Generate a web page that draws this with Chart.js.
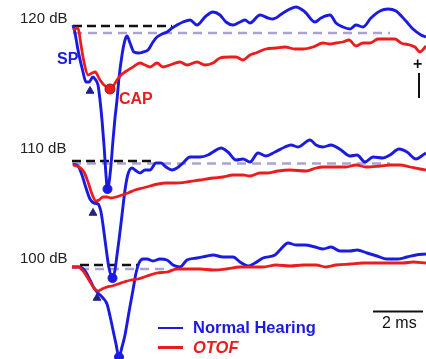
<!DOCTYPE html>
<html>
<head>
<meta charset="utf-8">
<script src="https://cdn.jsdelivr.net/npm/chart.js@4.4.1/dist/chart.umd.min.js"></script>
<style>
  body { margin: 0; background: #fff; }
  #wrap { position: relative; width: 426px; height: 359px; overflow: hidden; font-family: "Liberation Sans", Arial, sans-serif; }
  #wrap canvas { position: absolute; left: 0; top: 0; }
  .lbl { position: absolute; white-space: nowrap; line-height: 1; }
  .level { font-size: 15px; color: #222; }
  .blue { color: #1a1ae0; font-weight: bold; }
  .red { color: #ec1c1c; font-weight: bold; }
  .swatch { position: absolute; left: 158px; width: 25px; }
</style>
</head>
<body>
<div id="wrap">
  <canvas id="ecochg" width="426" height="359"></canvas>
  <div class="lbl level" style="left:20px; top:10px;">120 dB</div>
  <div class="lbl level" style="left:20px; top:140px;">110 dB</div>
  <div class="lbl level" style="left:20px; top:250px;">100 dB</div>
  <div class="lbl blue" style="left:57px; top:51px; font-size:16px;">SP</div>
  <div class="lbl red" style="left:119px; top:91px; font-size:16px;">CAP</div>
  <div class="lbl" style="left:413px; top:56px; font-size:16px; font-weight:bold; color:#111;">+</div>
  <div class="lbl" style="left:382px; top:315px; font-size:16px; color:#111;">2 ms</div>
  <div class="swatch" style="top:327px; height:2px; background:#1a1ae0;"></div>
  <div class="lbl blue" style="left:193px; top:319px; font-size:16.5px;">Normal Hearing</div>
  <div class="swatch" style="top:346px; height:3px; background:#ec1c1c;"></div>
  <div class="lbl red" style="left:193px; top:339px; font-size:16.5px; font-style:italic;">OTOF</div>
</div>
<script>
// stimulus levels and vertical offset of each pair of traces (uV)
const levels = ['120 dB', '110 dB', '100 dB'];
const offsets = [0, -13.5, -23.9];

// time (ms) and amplitude (uV) per trace
const nh120Time = [0.04, 0.12, 0.24, 0.44, 0.56, 0.68, 0.84, 0.92, 1.04, 1.12, 1.2, 1.28, 1.36, 1.42, 1.48, 1.56, 1.64, 1.72, 1.8, 1.88, 2.0, 2.12, 2.2, 2.32, 2.48, 2.68, 2.84, 3.04, 3.24, 3.4, 3.6, 3.8, 4.0, 4.2, 4.44, 4.72, 5.0, 5.32, 5.64, 5.92, 6.16, 6.44, 6.72, 6.92, 7.12, 7.52, 7.84, 8.04, 8.44, 8.72, 8.96, 9.32, 9.72, 9.96, 10.32, 10.56, 10.84, 11.12, 11.36, 11.64, 11.96, 12.32, 12.64, 12.96, 13.32, 13.64, 13.96, 14.16];
const nh120Amp = [0.1, -0.7, -2.4, -4.6, -5.6, -5.6, -5.1, -5.3, -5.9, -7.4, -9.4, -11.9, -14.9, -16.3, -15.7, -13.9, -11.4, -9.2, -7.4, -5.2, -2.9, -1.4, -1.0, -1.7, -2.6, -2.7, -2.6, -2.4, -1.6, -1.1, -0.8, -0.6, -0.2, 0.1, 0.4, 0.6, 0.1, 0.9, 1.4, 1.1, 0.4, 0.1, 0.4, 0.6, 0.3, 1.1, 0.8, 0.7, 1.3, 1.7, 1.9, 1.4, 0.4, 0.8, 1.1, 0.3, -0.1, -0.3, 0.1, -0.1, 0.8, 1.5, 1.7, 1.5, 0.6, -0.3, -0.9, -1.1];
const ot120Time = [0.04, 0.24, 0.36, 0.48, 0.64, 0.8, 0.92, 1.12, 1.28, 1.44, 1.6, 1.8, 1.96, 2.12, 2.44, 2.72, 2.92, 3.12, 3.4, 3.64, 3.92, 4.32, 4.6, 5.0, 5.32, 5.64, 5.92, 6.32, 6.56, 6.84, 7.12, 7.36, 7.76, 8.16, 8.52, 8.92, 9.24, 9.64, 10.04, 10.32, 10.56, 10.84, 11.08, 11.36, 11.64, 11.92, 12.24, 12.56, 12.92, 13.16, 13.52, 13.72, 13.92, 14.16];
const ot120Amp = [-0.4, -0.2, -1.9, -3.6, -4.9, -4.7, -4.6, -5.4, -5.9, -6.1, -6.1, -5.4, -4.9, -4.6, -4.1, -3.7, -3.9, -4.1, -3.7, -4.1, -3.9, -3.6, -3.9, -3.6, -3.9, -3.7, -3.2, -3.1, -3.1, -3.4, -2.9, -2.7, -2.3, -2.2, -2.1, -2.3, -2.3, -2.1, -1.7, -1.8, -1.7, -1.6, -1.4, -2.0, -1.7, -1.7, -1.3, -1.3, -1.3, -1.7, -1.9, -2.1, -2.6, -2.0];

const nh110Time = [0.04, 0.24, 0.4, 0.56, 0.72, 0.88, 1.04, 1.16, 1.24, 1.32, 1.4, 1.48, 1.62, 1.72, 1.8, 1.88, 2.0, 2.12, 2.24, 2.4, 2.52, 2.72, 2.92, 3.12, 3.36, 3.56, 3.76, 4.0, 4.2, 4.44, 4.72, 5.12, 5.44, 5.64, 5.96, 6.24, 6.56, 6.84, 7.12, 7.44, 7.76, 8.12, 8.52, 8.76, 9.04, 9.52, 9.76, 10.04, 10.36, 10.76, 11.12, 11.4, 11.72, 12.04, 12.44, 12.72, 13.08, 13.4, 13.76, 14.04, 14.16];
const nh110Amp = [-0.3, -0.5, -1.4, -2.7, -3.8, -4.2, -4.3, -5.1, -6.4, -7.9, -9.4, -10.7, -11.7, -10.9, -9.4, -7.9, -5.4, -2.9, -1.3, -0.7, -0.9, -1.2, -0.9, -0.9, -0.2, -0.2, -0.6, -0.9, -0.7, -0.2, 0.4, 0.4, 0.6, 0.9, 1.3, 0.9, 0.1, 0.2, -0.1, 0.8, 0.5, 0.9, 1.4, 1.6, 1.4, 2.1, 1.6, 1.4, 1.6, 1.1, 0.5, 0.6, -0.1, 0.4, 0.3, 0.6, 1.2, 0.9, 0.2, 0.6, 0.8];
const ot110Time = [0.04, 0.28, 0.48, 0.64, 0.8, 0.96, 1.08, 1.24, 1.4, 1.56, 1.76, 2.0, 2.24, 2.52, 2.84, 3.12, 3.44, 3.76, 4.12, 4.6, 5.12, 5.64, 6.04, 6.44, 6.84, 7.12, 7.52, 7.84, 8.24, 8.72, 9.36, 9.76, 10.04, 10.56, 10.96, 11.36, 11.76, 12.32, 12.72, 13.12, 13.52, 13.92, 14.16];
const ot110Amp = [-0.4, -0.6, -1.1, -2.1, -3.3, -4.0, -3.9, -3.6, -3.6, -3.7, -3.6, -3.4, -3.2, -2.9, -2.7, -2.5, -2.3, -2.2, -2.2, -2.1, -1.9, -1.7, -1.6, -1.4, -1.4, -1.5, -1.2, -1.2, -1.0, -0.9, -1.0, -0.7, -0.6, -0.6, -0.6, -0.4, -0.6, -0.5, -0.4, -0.4, -0.6, -0.8, -0.9];

const nh100Time = [0, 0.32, 0.52, 0.72, 0.88, 1.04, 1.24, 1.4, 1.52, 1.64, 1.76, 1.88, 2.0, 2.12, 2.28, 2.44, 2.56, 2.68, 2.84, 3.0, 3.24, 3.52, 3.8, 4.04, 4.32, 4.6, 5.0, 5.4, 5.64, 6.04, 6.44, 6.72, 7.04, 7.32, 7.64, 8.12, 8.32, 8.64, 8.96, 9.32, 9.72, 10.04, 10.36, 10.72, 11.12, 11.4, 11.8, 12.2, 12.6, 13.0, 13.4, 13.76, 14.16];
const nh100Amp = [-0.2, -0.2, -0.6, -1.5, -2.3, -2.8, -3.3, -3.9, -5.1, -6.5, -7.9, -9.2, -8.2, -7.0, -4.7, -2.5, -0.8, 0.2, 0.6, 0.6, 0.4, 0.6, 0.5, 0.0, -0.2, 0.5, 0.7, 0.9, 1.0, 0.8, 0.8, 0.3, -0.1, 0.2, 0.7, 1.0, 1.5, 2.2, 2.0, 2.0, 1.8, 1.6, 1.8, 1.4, 1.4, 1.5, 1.2, 0.9, 0.6, 0.6, 0.8, 1.0, 1.1];
const ot100Time = [0, 0.24, 0.48, 0.68, 0.88, 1.04, 1.2, 1.4, 1.6, 1.84, 2.08, 2.36, 2.64, 3.0, 3.4, 3.8, 4.2, 4.6, 5.12, 5.64, 6.16, 6.72, 7.12, 7.64, 8.16, 8.72, 9.24, 9.76, 10.16, 10.56, 11.12, 11.64, 12.16, 12.72, 13.24, 13.64, 14.16];
const ot100Amp = [-0.2, -0.2, -0.7, -1.5, -2.3, -2.6, -2.4, -2.2, -2.1, -1.9, -1.7, -1.5, -1.4, -1.1, -0.8, -0.7, -0.4, -0.4, -0.4, -0.5, -0.4, -0.2, -0.2, -0.2, 0.0, -0.1, 0.0, 0.0, -0.2, 0.0, 0.1, 0.2, 0.2, 0.2, 0.2, 0.3, 0.2];

// SP (triangles) and CAP (circles) markers, one per level
const spTime = [0.72, 0.84, 1.0];
const spAmp = [-6.5, -5.2, -3.3];
const capNhTime = [1.42, 1.62, 1.88];
const capNhAmp = [-16.3, -11.7, -9.2];
const capOtTime = [1.52];
const capOtAmp = [-6.3];

// dashed reference lines: [start ms, end ms, amplitude]
const blackRefs = [[0.04, 4.0, 0], [0, 3.24, 0], [0.32, 2.64, 0]];
const greyRefs = [[0.04, 12.72, -0.7], [0, 12.72, -0.25], [0.32, 3.8, -0.4]];

// scale bars
const timeBar = { start: 12.04, len: 2, amp: -28.55 };
const ampBar = { t: 13.88, top: -4.7, len: 2.5 };

const BLUE = '#1a1ae0';
const RED = '#ec1c1c';

function trace(times, amps, off) {
    return times.map((t, i) => ({ x: t, y: amps[i] + off }));
}

const datasets = [];
const nhTraces = [[nh120Time, nh120Amp], [nh110Time, nh110Amp], [nh100Time, nh100Amp]];
const otTraces = [[ot120Time, ot120Amp], [ot110Time, ot110Amp], [ot100Time, ot100Amp]];

levels.forEach((lvl, i) => {
    datasets.push({
        label: 'ref ' + lvl,
        data: [{ x: greyRefs[i][0], y: greyRefs[i][2] + offsets[i] }, { x: greyRefs[i][1], y: greyRefs[i][2] + offsets[i] }],
        borderColor: '#a9a2d2', borderWidth: 2.5, borderDash: [9, 6], pointRadius: 0, order: 10
    });
    datasets.push({
        label: 'baseline ' + lvl,
        data: [{ x: blackRefs[i][0], y: blackRefs[i][2] + offsets[i] }, { x: blackRefs[i][1], y: blackRefs[i][2] + offsets[i] }],
        borderColor: '#111', borderWidth: 2.5, borderDash: [9, 5], pointRadius: 0, order: 9
    });
    datasets.push({
        label: 'Normal Hearing ' + lvl,
        data: trace(nhTraces[i][0], nhTraces[i][1], offsets[i]),
        borderColor: BLUE, borderWidth: 2.9, pointRadius: 0,
        cubicInterpolationMode: 'monotone', order: 5
    });
    datasets.push({
        label: 'OTOF ' + lvl,
        data: trace(otTraces[i][0], otTraces[i][1], offsets[i]),
        borderColor: RED, borderWidth: 2.8, pointRadius: 0,
        cubicInterpolationMode: 'monotone', order: 4
    });
});

datasets.push({
    type: 'scatter', label: 'SP',
    data: spTime.map((t, i) => ({ x: t, y: spAmp[i] + offsets[i] })),
    pointStyle: 'triangle', pointRadius: 4.5, backgroundColor: '#20208a', borderColor: '#20208a', order: 1
});
datasets.push({
    type: 'scatter', label: 'CAP NH',
    data: capNhTime.map((t, i) => ({ x: t, y: capNhAmp[i] + offsets[i] })),
    pointStyle: 'circle', pointRadius: 4.5, backgroundColor: BLUE, borderColor: BLUE, order: 1
});
datasets.push({
    type: 'scatter', label: 'CAP OTOF',
    data: capOtTime.map((t, i) => ({ x: t, y: capOtAmp[i] + offsets[i] })),
    pointStyle: 'circle', pointRadius: 5, backgroundColor: RED, borderColor: '#a01010', borderWidth: 1, order: 1
});

// 2 ms and amplitude bars drawn through the scales
const barsPlugin = {
    id: 'bars',
    afterDatasetsDraw(chart) {
        const x = chart.scales.x, y = chart.scales.y, ctx = chart.ctx;
        ctx.save();
        ctx.strokeStyle = '#111';
        ctx.lineWidth = 2;
        ctx.beginPath();
        ctx.moveTo(x.getPixelForValue(timeBar.start), y.getPixelForValue(timeBar.amp));
        ctx.lineTo(x.getPixelForValue(timeBar.start + timeBar.len), y.getPixelForValue(timeBar.amp));
        ctx.moveTo(x.getPixelForValue(ampBar.t), y.getPixelForValue(ampBar.top));
        ctx.lineTo(x.getPixelForValue(ampBar.t), y.getPixelForValue(ampBar.top - ampBar.len));
        ctx.stroke();
        ctx.restore();
    }
};

new Chart(document.getElementById('ecochg'), {
    type: 'line',
    data: { datasets: datasets },
    options: {
        responsive: false,
        animation: false,
        events: [],
        layout: { padding: 0, autoPadding: false },
        plugins: { legend: { display: false }, tooltip: { enabled: false } },
        scales: {
            x: { type: 'linear', min: -2.88, max: 14.16, display: false },
            y: { type: 'linear', min: -33.3, max: 2.6, display: false }
        }
    },
    plugins: [barsPlugin]
});
</script>
</body>
</html>
